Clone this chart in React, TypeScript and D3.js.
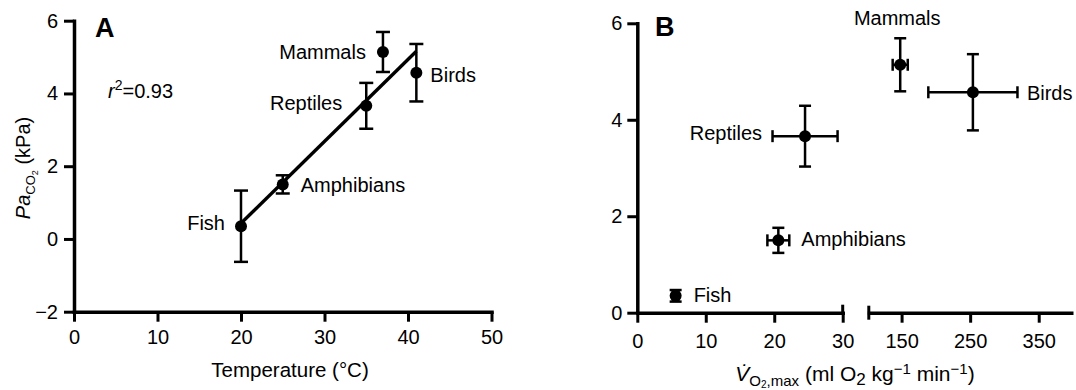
import { useEffect, useRef } from "react"
import * as d3 from "d3"

// Values
const species = ["Fish", "Amphibians", "Reptiles", "Mammals", "Birds"]
const temperature = [20, 25, 35, 37, 41]
const paco2 = [0.35, 1.5, 3.66, 5.14, 4.57]
const paco2ErrA = [0.98, 0.25, 0.63, 0.55, 0.79]
const paco2ErrB = [0.12, 0.26, 0.63, 0.55, 0.79]
const vo2max = [5.6, 20.6, 24.5, 148, 254]
const vo2maxErr = [0.4, 1.6, 4.75, 11, 65]
const fitTemperature = [20, 41]
const fitPaco2 = [0.43, 5.16]
const rSquared = "0.93"

const tempTicks = [0, 10, 20, 30, 40, 50]
const paco2TicksA = [-2, 0, 2, 4, 6]
const paco2TicksB = [0, 2, 4, 6]
const vo2TicksLow = [0, 10, 20, 30]
const vo2TicksHigh = [150, 250, 350]

const FONT = "'Liberation Sans', Arial, Helvetica, sans-serif"

export default function App() {
  const svgRef = useRef<SVGSVGElement>(null)

  useEffect(() => {
    if (!svgRef.current) return
    const svg = d3.select(svgRef.current)
    svg.selectAll("*").remove()

    const styleAxis = (g: any) => {
      g.select(".domain").attr("stroke", "#000").attr("stroke-width", 3.5).attr("stroke-linecap", "square")
      g.selectAll(".tick line").attr("stroke", "#000").attr("stroke-width", 3)
      g.selectAll(".tick text").attr("fill", "#000").style("font-size", "20px").style("font-family", FONT)
    }
    const fmt = (d: any) => (d < 0 ? `\u2212${-d}` : `${d}`)

    const rows = species.map((name, i) => ({
      name,
      t: temperature[i],
      p: paco2[i],
      peA: paco2ErrA[i],
      peB: paco2ErrB[i],
      v: vo2max[i],
      ve: vo2maxErr[i],
    }))

    // ---------- Panel A ----------
    const xA = d3.scaleLinear().domain([0, 50]).range([74, 491.5])
    const yA = d3.scaleLinear().domain([-2, 6]).range([311.7, 20.7])
    const gA = svg.append("g")

    gA.append("g")
      .attr("transform", `translate(0,${yA(-2)})`)
      .call(d3.axisBottom(xA).tickValues(tempTicks).tickSize(10).tickSizeOuter(0).tickPadding(8).tickFormat(fmt))
      .call(styleAxis)

    gA.append("g")
      .attr("transform", `translate(${xA(0)},0)`)
      .call(d3.axisLeft(yA).tickValues(paco2TicksA).tickSize(10).tickSizeOuter(0).tickPadding(6).tickFormat(fmt))
      .call(styleAxis)

    // regression line
    const fit = fitTemperature.map((t, i) => [t, fitPaco2[i]] as [number, number])
    gA.append("path")
      .datum(fit)
      .attr("fill", "none")
      .attr("stroke", "#000")
      .attr("stroke-width", 3.4)
      .attr("d", d3.line<[number, number]>().x((d) => xA(d[0])).y((d) => yA(d[1])))

    // error bars
    const capA = 7
    rows.forEach((d) => {
      const x = xA(d.t)
      const y1 = yA(d.p - d.peA)
      const y2 = yA(d.p + d.peA)
      gA.append("line").attr("x1", x).attr("x2", x).attr("y1", y1).attr("y2", y2).attr("stroke", "#000").attr("stroke-width", 2.5)
      gA.append("line").attr("x1", x - capA).attr("x2", x + capA).attr("y1", y1).attr("y2", y1).attr("stroke", "#000").attr("stroke-width", 2.5)
      gA.append("line").attr("x1", x - capA).attr("x2", x + capA).attr("y1", y2).attr("y2", y2).attr("stroke", "#000").attr("stroke-width", 2.5)
    })

    gA.selectAll(".dotA")
      .data(rows)
      .enter()
      .append("circle")
      .attr("cx", (d) => xA(d.t))
      .attr("cy", (d) => yA(d.p))
      .attr("r", 6)
      .attr("fill", "#000")

    const labelA: Record<string, [number, number, string]> = {
      Fish: [-16, 4, "end"],
      Amphibians: [18, 8, "start"],
      Reptiles: [-24, 4, "end"],
      Mammals: [-17, 7, "end"],
      Birds: [14, 9, "start"],
    }
    rows.forEach((d) => {
      const [dx, dy, anchor] = labelA[d.name]
      gA.append("text")
        .attr("x", xA(d.t) + dx)
        .attr("y", yA(d.p) + dy)
        .attr("text-anchor", anchor)
        .style("font-size", "20px")
        .style("font-family", FONT)
        .text(d.name)
    })

    // r^2
    const r2 = gA.append("text").attr("x", 108).attr("y", 98).style("font-size", "20px").style("font-family", FONT)
    r2.append("tspan").style("font-style", "italic").text("r")
    r2.append("tspan").attr("dy", -8).style("font-size", "14px").text("2")
    r2.append("tspan").attr("dy", 8).text(`=${rSquared}`)

    gA.append("text")
      .attr("x", 95)
      .attr("y", 37)
      .style("font-size", "27px")
      .style("font-weight", "bold")
      .style("font-family", FONT)
      .text("A")

    gA.append("text")
      .attr("x", 290)
      .attr("y", 377)
      .attr("text-anchor", "middle")
      .style("font-size", "20.5px")
      .style("font-family", FONT)
      .text("Temperature (°C)")

    const yl = gA.append("text")
      .attr("transform", "translate(30,168) rotate(-90)")
      .attr("text-anchor", "middle")
      .style("font-size", "20px")
      .style("font-family", FONT)
    yl.append("tspan").style("font-style", "italic").text("Pa")
    yl.append("tspan").attr("dy", 5).style("font-size", "13px").text("CO")
    yl.append("tspan").attr("dy", 3).style("font-size", "9px").text("2")
    yl.append("tspan").attr("dy", -8).text(" (kPa)")

    // ---------- Panel B ----------
    const lowRange: [number, number] = [637.3, 842.7]
    const highRange: [number, number] = [867.3, 1073]
    const xBLow = d3.scaleLinear().domain([0, 30]).range(lowRange)
    const xBHigh = d3.scaleLinear().domain([100, 400]).range(highRange)
    const xB = d3.scaleLinear().domain([0, 30, 100, 400]).range([lowRange[0], lowRange[1], highRange[0], highRange[1]])
    const yB = d3.scaleLinear().domain([0, 6]).range([312.7, 23.3])
    const gB = svg.append("g")

    gB.append("g")
      .attr("transform", `translate(0,${yB(0)})`)
      .call(d3.axisBottom(xBLow).tickValues(vo2TicksLow).tickSize(10).tickSizeOuter(0).tickPadding(11).tickFormat(fmt))
      .call(styleAxis)
    gB.append("g")
      .attr("transform", `translate(0,${yB(0)})`)
      .call(d3.axisBottom(xBHigh).tickValues(vo2TicksHigh).tickSize(10).tickSizeOuter(0).tickPadding(11).tickFormat(fmt))
      .call(styleAxis)
      .select(".domain")
      .attr("stroke-linecap", "butt")

    // break caps
    gB.append("line").attr("x1", xBLow(30)).attr("x2", xBLow(30)).attr("y1", yB(0) - 8).attr("y2", yB(0)).attr("stroke", "#000").attr("stroke-width", 3)
    gB.append("line").attr("x1", xBHigh(100) + 1.5).attr("x2", xBHigh(100) + 1.5).attr("y1", yB(0) - 7).attr("y2", yB(0) + 7).attr("stroke", "#000").attr("stroke-width", 3)

    gB.append("g")
      .attr("transform", `translate(${xBLow(0)},0)`)
      .call(d3.axisLeft(yB).tickValues(paco2TicksB).tickSize(10).tickSizeOuter(0).tickPadding(5).tickFormat(fmt))
      .call(styleAxis)

    const capY = 6
    const capX = 6
    rows.forEach((d) => {
      const x = xB(d.v)
      const y = yB(d.p)
      const x1 = xB(d.v - d.ve)
      const x2 = xB(d.v + d.ve)
      const y1 = yB(d.p - d.peB)
      const y2 = yB(d.p + d.peB)
      const line = (a: number, b: number, c: number, e: number) =>
        gB.append("line").attr("x1", a).attr("y1", b).attr("x2", c).attr("y2", e).attr("stroke", "#000").attr("stroke-width", 2.5)
      line(x, y1, x, y2)
      line(x - capY, y1, x + capY, y1)
      line(x - capY, y2, x + capY, y2)
      line(x1, y, x2, y)
      line(x1, y - capX, x1, y + capX)
      line(x2, y - capX, x2, y + capX)
    })

    gB.selectAll(".dotB")
      .data(rows)
      .enter()
      .append("circle")
      .attr("cx", (d) => xB(d.v))
      .attr("cy", (d) => yB(d.p))
      .attr("r", 6)
      .attr("fill", "#000")

    const labelB: Record<string, [number, number, string]> = {
      Fish: [18, 6, "start"],
      Amphibians: [23, 6, "start"],
      Reptiles: [-43, 4, "end"],
      Mammals: [-3, -40, "middle"],
      Birds: [54, 8, "start"],
    }
    rows.forEach((d) => {
      const [dx, dy, anchor] = labelB[d.name]
      gB.append("text")
        .attr("x", xB(d.v) + dx)
        .attr("y", yB(d.p) + dy)
        .attr("text-anchor", anchor)
        .style("font-size", "20px")
        .style("font-family", FONT)
        .text(d.name)
    })

    gB.append("text")
      .attr("x", 655)
      .attr("y", 36)
      .style("font-size", "27px")
      .style("font-weight", "bold")
      .style("font-family", FONT)
      .text("B")

    const xl = gB.append("text")
      .attr("x", 855)
      .attr("y", 381)
      .attr("text-anchor", "middle")
      .style("font-size", "21px")
      .style("font-family", FONT)
    xl.append("tspan").style("font-style", "italic").text("V\u0307")
    xl.append("tspan").attr("dy", 5).style("font-size", "15px").text("O")
    xl.append("tspan").attr("dy", 2).style("font-size", "10px").text("2")
    xl.append("tspan").attr("dy", -2).style("font-size", "15px").text(",max")
    xl.append("tspan").attr("dy", -5).text(" (ml O")
    xl.append("tspan").attr("dy", 4).style("font-size", "17px").text("2")
    xl.append("tspan").attr("dy", -4).text(" kg")
    xl.append("tspan").attr("dy", -7).style("font-size", "15px").text("\u22121")
    xl.append("tspan").attr("dy", 7).text(" min")
    xl.append("tspan").attr("dy", -7).style("font-size", "15px").text("\u22121")
    xl.append("tspan").attr("dy", 7).text(")")
  }, [])

  return (
    <svg
      ref={svgRef}
      width={1076}
      height={390}
      style={{ position: "absolute", left: 0, top: 0, background: "#fff" }}
    ></svg>
  )
}
